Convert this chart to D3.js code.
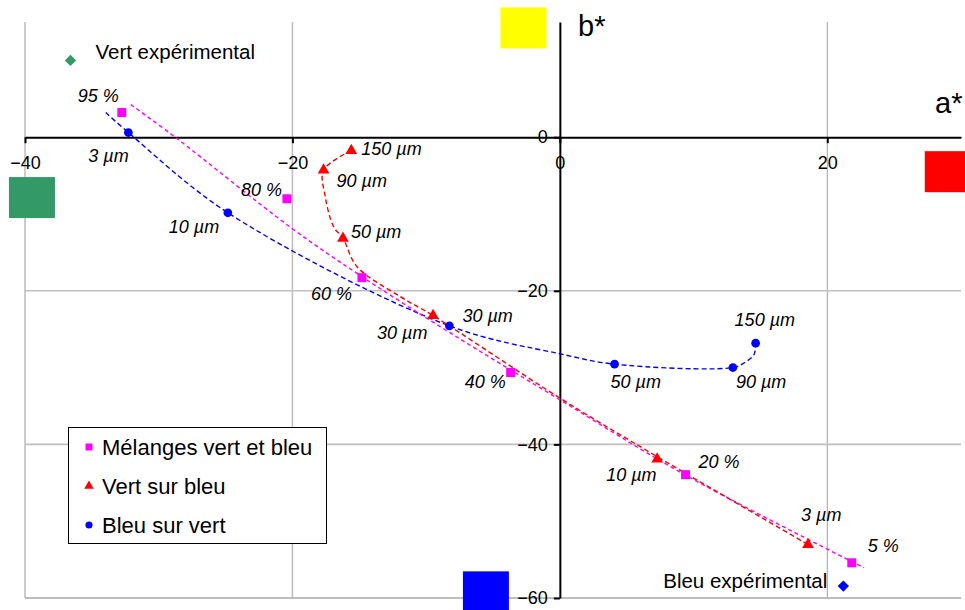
<!DOCTYPE html>
<html><head><meta charset="utf-8">
<script src="https://cdn.jsdelivr.net/npm/d3@7"></script>
<style>
html,body{margin:0;padding:0;background:#fff;}
svg{display:block;font-family:"Liberation Sans",Arial,sans-serif;}
</style></head>
<body>
<svg id="chart" width="965" height="610"></svg>
<script>
// ---------- DATA ----------
const xTicks = [-40, -20, 0, 20];
const yTicks = [0, -20, -40, -60];
const xGrid = [-40, -20, 20];
const yGrid = [-20, -40, -60];

// Mélanges vert et bleu (markers)
const melangeLabels = ["95 %", "80 %", "60 %", "40 %", "20 %", "5 %"];
const melangeA = [-32.76, -20.41, -14.80, -3.68, 9.40, 21.83];
const melangeB = [3.21, -8.02, -18.29, -30.64, -43.94, -55.42];
// Mélanges curve (dashed)
const melangeCurveA = [-32.09, -28.77, -20.04, -14.80, -8.19, 0, 9.33, 22.75];
const melangeCurveB = [4.25, 0, -11.87, -18.16, -25.49, -34.19, -43.94, -56.06];

// Vert sur bleu (markers)
const vsbLabels = ["150 µm", "90 µm", "50 µm", "30 µm", "10 µm", "3 µm"];
const vsbA = [-15.60, -17.67, -16.22, -9.48, 7.28, 18.56];
const vsbB = [-1.75, -4.29, -13.17, -23.23, -41.90, -53.04];
// Vert sur bleu curve
const vsbCurveA = [-15.60, -17.67, -17.54, -16.92, -16.22, -15.17, -11.93, -9.48, 0, 7.28, 18.56];
const vsbCurveB = [-1.75, -4.29, -7.76, -11.66, -13.17, -16.86, -20.76, -23.23, -33.97, -41.60, -53.04];

// Bleu sur vert (markers)
const bsvLabels = ["3 µm", "10 µm", "30 µm", "50 µm", "90 µm", "150 µm"];
const bsvA = [-32.27, -24.83, -8.26, 4.09, 12.94, 14.64];
const bsvB = [0.61, -9.84, -24.57, -29.55, -29.99, -26.82];
// Bleu sur vert curve
const bsvCurveA = [-33.96, -32.27, -24.83, -8.26, 0, 4.09, 12.94, 13.77, 14.52, 14.64];
const bsvCurveB = [3.21, 0.61, -9.84, -24.57, -28.20, -29.55, -29.99, -29.40, -28.30, -26.82];

// Experimental points
const expLabels = ["Vert expérimental", "Bleu expérimental"];
const expA = [-36.6, 21.2];
const expB = [10.0, -58.45];

// Colour patches (centres in a*, b*)
const patchColors = ["#ffff00", "#339966", "#ff0000", "#0000ff"];
const patchA = [-2.72, -39.48, 29.01, -5.53];
const patchB = [14.23, -7.86, -4.49, -59.2];

const legendLabels = ["Mélanges vert et bleu", "Vert sur bleu", "Bleu sur vert"];

// ---------- LAYOUT ----------
const plot = {left: 25, right: 961, top: 22, bottom: 598};
const x = d3.scaleLinear().domain([-40, 30]).range([plot.left, plot.right]);
const y = d3.scaleLinear().domain([-60, 15]).range([plot.bottom, plot.top]);

// label offsets (px): [dx, dy of text centre]
const melangeOff = [[-44,-17],[-46,-9],[-51,16],[-46,9],[13,-13],[16,-17]];
const vsbOff = [[10,-2],[13,10],[8,-7],[-56,17],[-51,16],[-7,-30]];
const bsvOff = [[-40,23],[-59,14],[13,-10],[-4,17],[3,14],[-21,-24]];

const COL_M = "#ff00ff", COL_R = "#ff0000", COL_B = "#0000ff";

const svg = d3.select("#chart");

// gridlines
const grid = svg.append("g");
grid.selectAll("line.vx").data(xGrid).enter().append("line")
  .attr("x1", d => x(d)).attr("x2", d => x(d))
  .attr("y1", plot.top).attr("y2", plot.bottom)
  .attr("stroke", d => d === 20 ? "#a0a0a0" : "#c0c0c0")
  .attr("stroke-width", d => d === 20 ? 1 : 1.6);
grid.selectAll("line.hy").data(yGrid).enter().append("line")
  .attr("x1", plot.left).attr("x2", plot.right)
  .attr("y1", d => y(d)).attr("y2", d => y(d))
  .attr("stroke", d => d === -60 ? "#a8a8a8" : "#c0c0c0")
  .attr("stroke-width", 1.6);

// axes
const xAxis = d3.axisBottom(x).tickValues(xTicks).tickSize(6).tickSizeOuter(0).tickPadding(13).tickFormat(d3.format("d"));
const gx = svg.append("g").attr("transform", `translate(0,${y(0)})`).call(xAxis);
gx.select(".domain").attr("stroke", "#000").attr("stroke-width", 2);
gx.selectAll(".tick line").attr("stroke", "#000").attr("stroke-width", 2);
gx.selectAll(".tick text").attr("font-size", 18).attr("fill", "#000")
  .attr("font-family", "Liberation Sans, Arial, sans-serif");

const yAxis = d3.axisLeft(y).tickValues(yTicks).tickSize(6).tickSizeOuter(0).tickPadding(6).tickFormat(d3.format("d"));
const gy = svg.append("g").attr("transform", `translate(${x(0)},0)`).call(yAxis);
gy.select(".domain").attr("stroke", "#000").attr("stroke-width", 2);
gy.selectAll(".tick line").attr("stroke", "#000").attr("stroke-width", 2);
gy.selectAll(".tick text").attr("font-size", 18).attr("fill", "#000")
  .attr("font-family", "Liberation Sans, Arial, sans-serif");

// axis titles
svg.append("text").attr("x", 578).attr("y", 36).attr("font-size", 29).text("b*");
svg.append("text").attr("x", 935).attr("y", 113).attr("font-size", 29).text("a*");

// curves
const zip = (A, B) => A.map((a, i) => [a, B[i]]);
const line = d3.line().x(d => x(d[0])).y(d => y(d[1])).curve(d3.curveCatmullRom.alpha(0.5));
svg.append("path").attr("d", line(zip(bsvCurveA, bsvCurveB)))
  .attr("fill", "none").attr("stroke", COL_B).attr("stroke-width", 1.4).attr("stroke-dasharray", "5,3");
svg.append("path").attr("d", line(zip(melangeCurveA, melangeCurveB)))
  .attr("fill", "none").attr("stroke", COL_M).attr("stroke-width", 1.4).attr("stroke-dasharray", "4,3");
svg.append("path").attr("d", line(zip(vsbCurveA, vsbCurveB)))
  .attr("fill", "none").attr("stroke", COL_R).attr("stroke-width", 1.4).attr("stroke-dasharray", "5,3");

// markers
const sq = d3.symbol().type(d3.symbolSquare).size(81);
const tri = d3.symbol().type(d3.symbolTriangle).size(60);
const circ = d3.symbol().type(d3.symbolCircle).size(60);
const dia = d3.symbol().type(d3.symbolSquare).size(64);

svg.append("g").selectAll("path").data(zip(melangeA, melangeB)).enter().append("path")
  .attr("d", sq).attr("fill", COL_M).attr("transform", d => `translate(${x(d[0])},${y(d[1])})`);
svg.append("g").selectAll("path").data(zip(vsbA, vsbB)).enter().append("path")
  .attr("d", tri).attr("fill", COL_R).attr("transform", d => `translate(${x(d[0])},${y(d[1])})`);
svg.append("g").selectAll("path").data(zip(bsvA, bsvB)).enter().append("path")
  .attr("d", circ).attr("fill", COL_B).attr("transform", d => `translate(${x(d[0])},${y(d[1])})`);
svg.append("path").attr("d", dia).attr("fill", "#339966")
  .attr("transform", `translate(${x(expA[0])},${y(expB[0])}) rotate(45)`);
svg.append("path").attr("d", dia).attr("fill", "#0000ff")
  .attr("transform", `translate(${x(expA[1])},${y(expB[1])}) rotate(45)`);

// point labels
function labels(L, A, B, off) {
  svg.append("g").selectAll("text").data(L).enter().append("text")
    .attr("x", (d, i) => x(A[i]) + off[i][0])
    .attr("y", (d, i) => y(B[i]) + off[i][1])
    .attr("dy", "0.36em")
    .attr("font-size", 18).attr("font-style", "italic").attr("fill", "#000")
    .text(d => d);
}
labels(melangeLabels, melangeA, melangeB, melangeOff);
labels(vsbLabels, vsbA, vsbB, vsbOff);
labels(bsvLabels, bsvA, bsvB, bsvOff);

// experimental labels
svg.append("text").attr("x", x(expA[0]) + 25).attr("y", y(expB[0]) - 1)
  .attr("font-size", 20.5).text(expLabels[0]);
svg.append("text").attr("x", x(expA[1]) - 16).attr("y", y(expB[1]) + 2)
  .attr("text-anchor", "end").attr("font-size", 20.5).text(expLabels[1]);

// colour patches
svg.append("g").selectAll("rect").data(patchColors).enter().append("rect")
  .attr("x", (d, i) => x(patchA[i]) - 23).attr("y", (d, i) => y(patchB[i]) - 20.5)
  .attr("width", 46).attr("height", 41).attr("fill", d => d);

// legend
const lg = svg.append("g").attr("transform", "translate(68.5,427.5)");
lg.append("rect").attr("width", 258).attr("height", 116).attr("fill", "#fff").attr("stroke", "#000").attr("stroke-width", 1);
const legSyms = [d3.symbol().type(d3.symbolSquare).size(49), d3.symbol().type(d3.symbolTriangle).size(40), d3.symbol().type(d3.symbolCircle).size(40)];
const legCols = [COL_M, COL_R, COL_B];
legendLabels.forEach((t, i) => {
  const cy = 19.5 + i * 39;
  lg.append("path").attr("d", legSyms[i]).attr("fill", legCols[i]).attr("transform", `translate(20.5,${cy})`);
  lg.append("text").attr("x", 33.5).attr("y", cy).attr("dy", "0.36em").attr("font-size", 22).text(t);
});
</script>
</body></html>
